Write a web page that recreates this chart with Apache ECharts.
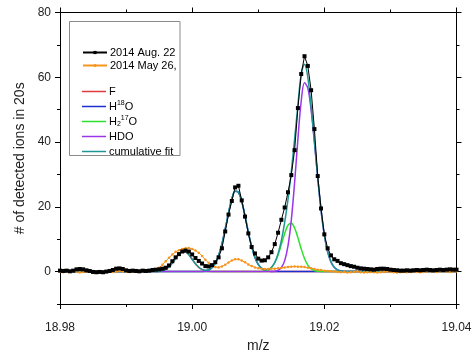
<!DOCTYPE html>
<html><head><meta charset="utf-8">
<script src="https://cdn.jsdelivr.net/npm/echarts@6/dist/echarts.min.js"></script>
<style>html,body{margin:0;padding:0;background:#fff}#c{width:475px;height:356px}</style>
</head><body><div id="c"></div><script>
// measured m/z sampling of the two spectra
const mzData = [
18.9800,18.9805,18.9810,18.9815,18.9820,18.9825,18.9830,18.9835,18.9840,18.9845,
18.9850,18.9855,18.9860,18.9865,18.9870,18.9875,18.9880,18.9885,18.9890,18.9895,
18.9900,18.9905,18.9910,18.9915,18.9920,18.9925,18.9930,18.9935,18.9940,18.9945,
18.9950,18.9955,18.9960,18.9965,18.9970,18.9975,18.9980,18.9985,18.9990,18.9995,
19.0000,19.0005,19.0010,19.0015,19.0020,19.0025,19.0030,19.0035,19.0040,19.0045,
19.0050,19.0055,19.0060,19.0065,19.0070,19.0075,19.0080,19.0085,19.0090,19.0095,
19.0100,19.0105,19.0110,19.0115,19.0120,19.0125,19.0130,19.0135,19.0140,19.0145,
19.0150,19.0155,19.0160,19.0165,19.0170,19.0175,19.0180,19.0185,19.0190,19.0195,
19.0200,19.0205,19.0210,19.0215,19.0220,19.0225,19.0230,19.0235,19.0240,19.0245,
19.0250,19.0255,19.0260,19.0265,19.0270,19.0275,19.0280,19.0285,19.0290,19.0295,
19.0300,19.0305,19.0310,19.0315,19.0320,19.0325,19.0330,19.0335,19.0340,19.0345,
19.0350,19.0355,19.0360,19.0365,19.0370,19.0375,19.0380,19.0385,19.0390,19.0395,
19.0400];
const aug22 = [
0.3,0.2,0.3,0.1,0.3,0.7,0.8,0.7,0.4,0.2,
-0.1,-0.2,-0.1,-0.2,0.0,0.2,0.5,0.9,1.0,0.8,
0.4,0.2,0.3,0.2,0.1,0.3,0.2,0.3,0.5,0.6,
0.7,0.9,1.2,1.9,3.2,4.4,5.4,6.2,6.5,6.2,
5.3,4.2,3.3,2.5,1.7,1.6,2.0,2.9,4.4,7.2,
12.4,17.6,21.8,26.0,26.5,22.0,17.0,11.8,7.6,5.6,
4.0,3.4,3.5,4.4,6.0,8.5,12.0,16.0,19.8,24.5,
29.8,37.5,50.5,61.0,66.5,63.5,56.0,44.0,29.5,19.5,
11.5,7.2,5.0,3.8,3.3,2.6,2.3,2.0,1.7,1.5,
1.2,1.0,0.9,0.8,0.7,0.6,0.8,0.9,0.9,0.8,
0.6,0.5,0.4,0.3,0.3,0.4,0.3,0.4,0.5,0.4,
0.5,0.6,0.5,0.4,0.5,0.6,0.5,0.6,0.7,0.6,
0.6];
const may26 = [
0.0,-0.2,0.1,-0.1,0.2,0.0,-0.3,-0.1,0.0,0.1,
-0.2,-0.3,-0.1,0.0,0.2,0.1,-0.1,0.0,0.2,0.1,
0.0,-0.1,0.0,0.1,0.0,0.2,0.1,0.2,0.3,0.6,
1.2,2.1,3.2,4.3,5.3,6.1,6.6,7.0,7.2,7.3,
7.0,6.5,5.8,4.8,3.7,2.7,1.9,1.4,1.3,1.6,
2.1,2.8,3.4,3.8,3.8,3.4,2.9,2.2,1.7,1.3,
1.0,0.9,0.8,0.8,0.9,0.9,1.0,1.1,1.3,1.4,
1.5,1.6,1.5,1.5,1.4,1.2,1.0,0.8,0.6,0.5,
0.3,0.2,0.1,0.0,-0.1,-0.2,-0.1,-0.3,-0.2,-0.1,
0.0,-0.2,-0.3,-0.2,-0.1,-0.2,-0.3,-0.2,-0.1,0.0,
-0.1,-0.2,-0.3,-0.2,-0.1,-0.2,-0.1,0.0,-0.1,-0.2,
-0.1,0.0,0.1,0.0,-0.1,0.0,0.1,0.0,-0.1,0.0,
0.1];
// fit curves sampling
const fitMz = [18.9800,
18.9930,18.9935,18.9940,18.9945,18.9950,18.9955,18.9960,18.9965,18.9970,18.9975,
18.9980,18.9985,18.9990,18.9995,19.0000,19.0005,19.0010,19.0015,19.0020,19.0025,
19.0030,19.0035,19.0040,19.0045,19.0050,19.0055,19.0060,19.0065,19.0070,19.0075,
19.0080,19.0085,19.0090,19.0095,19.0100,19.0105,19.0110,19.0115,19.0120,19.0125,
19.0130,19.0135,19.0140,19.0145,19.0150,19.0155,19.0160,19.0165,19.0170,19.0175,
19.0180,19.0185,19.0190,19.0195,19.0200,19.0205,19.0210,19.0215,19.0220,19.0225,
19.0230,19.0235,19.0240,
19.0400];
const fitF = [0,
0,0,0.01,0.03,0.11,0.30,0.73,1.51,2.68,4.11,
5.45,6.23,6.13,5.21,3.82,2.41,1.32,0.62,0.25,0.09,
0.03,0.01,0,0,0,0,0,0,0,0,
0,0,0,0,0,0,0,0,0,0,
0,0,0,0,0,0,0,0,0,0,
0,0,0,0,0,0,0,0,0,0,
0,0,0,
0];
const fitH18O = [0,
0,0,0,0,0,0,0,0,0,0,
0,0,0,0,0,0,0.02,0.06,0.18,0.50,
1.19,2.57,4.95,8.52,13.15,18.15,22.42,24.78,24.50,21.68,
17.17,12.17,7.72,4.38,2.22,1.01,0.41,0.15,0.05,0.01,
0,0,0,0,0,0,0,0,0,0,
0,0,0,0,0,0,0,0,0,0,
0,0,0,
0];
const fitH217O = [0,
0,0,0,0,0,0,0,0,0,0,
0,0,0,0,0,0,0,0,0,0,
0,0,0,0,0,0,0,0,0,0,
0,0,0,0,0,0.05,0.17,0.49,1.25,2.73,
5.15,8.40,11.8,14.31,14.96,13.48,10.49,7.03,4.07,2.03,
0.87,0.33,0.10,0.03,0,0,0,0,0,0,
0,0,0,
0];
const fitHDO = [0,
0,0,0,0,0,0,0,0,0,0,
0,0,0,0,0,0,0,0,0,0,
0,0,0,0,0,0,0,0,0,0,
0,0,0,0,0,0,0,0,0.03,0.11,
0.41,1.27,3.40,7.92,15.88,27.44,40.9,52.6,58.3,56.7,
49.9,39.9,28.9,19.0,11.3,6.12,3.00,1.33,0.54,0.20,
0.07,0.02,0,
0];
const fitCum = [0,
0,0,0.01,0.03,0.11,0.30,0.73,1.51,2.68,4.11,
5.45,6.23,6.13,5.21,3.82,2.41,1.34,0.68,0.43,0.59,
1.22,2.58,4.95,8.52,13.15,18.15,22.42,24.78,24.50,21.68,
17.17,12.17,7.72,4.38,2.22,1.06,0.58,0.64,1.33,2.85,
5.56,9.67,15.2,22.23,30.84,40.92,51.39,61.0,64.0,60.0,
50.77,40.23,29.0,19.03,11.3,6.12,3.00,1.33,0.54,0.20,
0.07,0.02,0,
0];
const xMajorTicks = [18.98, 19.00, 19.02, 19.04];
const xMinorTicks = [18.99, 19.01, 19.03];
const yMajorTicks = [0, 20, 40, 60, 80];
const yMinorTicks = [-10, 10, 30, 50, 70];
const dataNames = ['2014 Aug. 22', '2014 May 26,'];
const fitNames = ['F', 'H18O', 'H2 17O', 'HDO', 'cumulative fit'];
const fitLabels = {'F':'F','H18O':'H{sup|18}O','H2 17O':'H{sub|2}{sup|17}O','HDO':'HDO','cumulative fit':'cumulative fit'};

const FONT = 'Liberation Sans, Arial, sans-serif';
const zip = (xs, ys) => xs.map((x, i) => [x, ys[i]]);

function xAx(pos, ticks, len, opts) {
  return Object.assign({
    type: 'value', position: pos, min: 18.98, max: 19.04,
    axisLine: {show: true, onZero: false, lineStyle: {color: '#000', width: 1}},
    axisTick: {show: true, customValues: ticks, length: len, inside: false, lineStyle: {color: '#000'}},
    axisLabel: {show: false},
    splitLine: {show: false}
  }, opts || {});
}
function yAx(pos, ticks, len, opts) {
  return Object.assign({
    type: 'value', position: pos, min: -10, max: 80,
    axisLine: {show: true, onZero: false, lineStyle: {color: '#000', width: 1}},
    axisTick: {show: true, customValues: ticks, length: len, inside: false, lineStyle: {color: '#000'}},
    axisLabel: {show: false},
    splitLine: {show: false}
  }, opts || {});
}

const chart = echarts.init(document.getElementById('c'), null, {renderer: 'canvas'});
const fitColors = ['#e0393e', '#1c2fd0', '#2ee02e', '#9a35e8', '#1f9696'];
const fitData = [fitF, fitH18O, fitH217O, fitHDO, fitCum];

const series = fitNames.map((n, i) => ({
  name: n, type: 'line', xAxisIndex: 0, yAxisIndex: 0,
  data: zip(fitMz, fitData[i]), symbol: 'none', smooth: 0.35,
  lineStyle: {color: fitColors[i], width: 1.5}, itemStyle: {color: fitColors[i]},
  z: 2 + i * 0.1
}));
series.push({
  name: dataNames[1], type: 'line', xAxisIndex: 0, yAxisIndex: 0,
  data: zip(mzData, may26), symbol: 'circle', symbolSize: 2.5, showSymbol: true,
  lineStyle: {color: '#f7941d', width: 1}, itemStyle: {color: '#f7941d'}, z: 3
});
series.push({
  name: dataNames[0], type: 'line', xAxisIndex: 0, yAxisIndex: 0,
  data: zip(mzData, aug22), symbol: 'rect', symbolSize: 4, showSymbol: true,
  lineStyle: {color: '#000', width: 1}, itemStyle: {color: '#000'}, z: 4
});

const richStyles = {
  sup: {fontSize: 7, lineHeight: 13, verticalAlign: 'top', fontFamily: FONT, color: '#000'},
  sub: {fontSize: 7, lineHeight: 13, verticalAlign: 'bottom', fontFamily: FONT, color: '#000'}
};

chart.setOption({
  animation: false,
  backgroundColor: '#fff',
  textStyle: {fontFamily: FONT},
  grid: {left: 60, right: 18.5, top: 12.5, bottom: 52, containLabel: false, outerBoundsMode: 'none'},
  xAxis: [
    xAx('bottom', xMajorTicks, 5, {
      axisLabel: {show: true, customValues: xMajorTicks, formatter: v => v.toFixed(2), margin: 18, fontSize: 12, color: '#222', fontFamily: FONT},
      name: 'm/z', nameLocation: 'middle', nameGap: 34,
      nameTextStyle: {fontSize: 14, color: '#222', fontFamily: FONT}
    }),
    xAx('bottom', xMinorTicks, 3),
    xAx('top', xMajorTicks, 5),
    xAx('top', xMinorTicks, 3)
  ],
  yAxis: [
    yAx('left', yMajorTicks, 5, {
      axisLabel: {show: true, customValues: yMajorTicks, margin: 9, fontSize: 12, color: '#222', fontFamily: FONT},
      name: '# of detected ions in 20s', nameLocation: 'middle', nameGap: 26,
      nameTextStyle: {fontSize: 14, color: '#222', fontFamily: FONT}
    }),
    yAx('left', yMinorTicks, 3),
    yAx('right', yMajorTicks, 5),
    yAx('right', yMinorTicks, 3)
  ],
  graphic: [{
    type: 'rect', z: 3, silent: true,
    shape: {x: 69.5, y: 21.5, width: 110.5, height: 134},
    style: {fill: '#fff', stroke: '#8a8a8a', lineWidth: 1}
  }],
  legend: [{
    data: dataNames, orient: 'vertical', left: 82, top: 46, padding: 0,
    itemWidth: 24, itemHeight: 4, itemGap: 0, z: 5,
    textStyle: {fontSize: 11, lineHeight: 13, color: '#000', fontFamily: FONT, padding: [0, 0, 0, -2]}
  }, {
    data: fitNames, orient: 'vertical', left: 82, top: 85, padding: 0,
    icon: 'rect', itemWidth: 24, itemHeight: 1.5, itemGap: 2, z: 5,
    formatter: n => fitLabels[n],
    textStyle: {fontSize: 11, lineHeight: 13, color: '#000', fontFamily: FONT, padding: [0, 0, 0, -2], rich: richStyles}
  }],
  series: series
});
</script></body></html>
